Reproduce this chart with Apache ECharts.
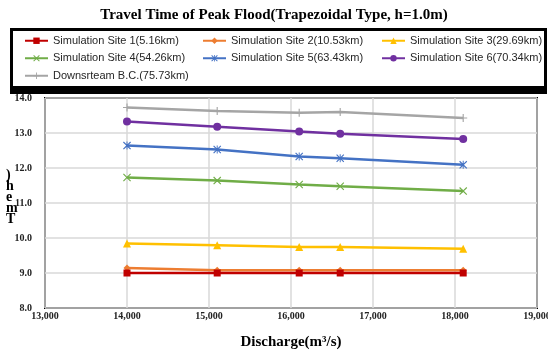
<!DOCTYPE html>
<html lang="en">
<head>
    <meta charset="UTF-8">
    <title>Travel Time of Peak Flood</title>
    <script src="https://cdn.jsdelivr.net/npm/echarts@6/dist/echarts.min.js"></script>
</head>
<body style="margin:0">
<div id="main" style="width: 548px;height:350px;"></div>
<script type="text/javascript">
    // discharge (m3/s) on x
    var discharge = [14000, 15100, 16100, 16600, 18100];
    // travel time (h) per site
    var site1 = [9.0, 9.0, 9.0, 9.0, 9.0];
    var site2 = [9.14, 9.08, 9.08, 9.08, 9.08];
    var site3 = [9.84, 9.79, 9.74, 9.74, 9.69];
    var site4 = [11.73, 11.64, 11.53, 11.48, 11.34];
    var site5 = [12.64, 12.53, 12.33, 12.28, 12.09];
    var site6 = [13.33, 13.18, 13.04, 12.98, 12.83];
    var downstream = [13.73, 13.63, 13.58, 13.6, 13.43];

    var names = ["Simulation Site 1(5.16km)", "Simulation Site 2(10.53km)", "Simulation Site 3(29.69km)",
        "Simulation Site 4(54.26km)", "Simulation Site 5(63.43km)", "Simulation Site 6(70.34km)",
        "Downsrteam B.C.(75.73km)"];
    var colors = ["#c00000", "#ed7d31", "#ffc000", "#70ad47", "#4472c4", "#7030a0", "#a5a5a5"];

    var xMark = "path://M0,1L1,0L5,4L9,0L10,1L6,5L10,9L9,10L5,6L1,10L0,9L4,5Z";
    var starMark = "path://M0,1L1,0L5,4L9,0L10,1L6,5L10,9L9,10L5,6L1,10L0,9L4,5ZM4.4,0H5.6V10H4.4Z";
    var plusMark = "path://M4.3,0H5.7V4.3H10V5.7H5.7V10H4.3V5.7H0V4.3H4.3Z";
    var symbols = ["rect", "diamond", "triangle", xMark, starMark, "circle", plusMark];
    var sizes = [7, 7, 8, 8, 8, 8, 8];
    var values = [site1, site2, site3, site4, site5, site6, downstream];

    var serif = "'Liberation Serif', 'Times New Roman', serif";
    var sans = "'Liberation Sans', Arial, sans-serif";

    var series = values.map(function (v, i) {
        return {
            name: names[i],
            type: "line",
            data: v.map(function (y, j) { return [discharge[j], y]; }),
            symbol: symbols[i],
            symbolSize: sizes[i],
            lineStyle: {color: colors[i], width: 2.5},
            itemStyle: {color: colors[i]},
            z: 10 - i
        };
    });

    function legendCol(left, items) {
        return {
            orient: "vertical",
            left: left,
            top: 34,
            padding: 0,
            itemGap: 4,
            itemWidth: 23,
            itemHeight: 8,
            data: items,
            textStyle: {fontFamily: sans, fontSize: 11, lineHeight: 13.5, color: "#262626"}
        };
    }

    var myChart = echarts.init(document.getElementById('main'));
    myChart.setOption({
        animation: false,
        title: {
            text: "Travel Time of Peak Flood(Trapezoidal Type, h=1.0m)",
            left: "center",
            top: 3,
            textStyle: {fontFamily: serif, fontWeight: "bold", fontSize: 15, color: "#000"}
        },
        legend: [
            legendCol(24, [names[0], names[3], names[6]]),
            legendCol(202, [names[1], names[4]]),
            legendCol(381, [names[2], names[5]])
        ],
        grid: {
            left: 45, right: 11, top: 98, bottom: 42,
            outerBoundsMode: "none",
            show: true, borderColor: "#000", borderWidth: 2
        },
        xAxis: {
            type: "value",
            min: 13000, max: 19000, interval: 1000,
            axisLine: {show: false},
            axisTick: {show: false},
            splitLine: {lineStyle: {color: "#d9d9d9", width: 1.5}},
            axisLabel: {
                margin: 3,
                fontFamily: serif, fontWeight: "bold", fontSize: 10, color: "#222",
                formatter: function (v) { return v.toLocaleString("en-US"); }
            },
            name: "Discharge(m³/s)",
            nameLocation: "middle",
            nameGap: 27,
            nameTextStyle: {fontFamily: serif, fontWeight: "bold", fontSize: 15, color: "#000"}
        },
        yAxis: {
            type: "value",
            min: 8, max: 14, interval: 1,
            axisLine: {show: false},
            axisTick: {show: false},
            splitLine: {lineStyle: {color: "#d9d9d9", width: 1.5}},
            axisLabel: {
                margin: 13,
                fontFamily: serif, fontWeight: "bold", fontSize: 10, color: "#222",
                formatter: function (v) { return v.toFixed(1); }
            }
        },
        graphic: [
            {
                type: "rect",
                shape: {x: 11.5, y: 29.5, width: 534, height: 60},
                style: {fill: "none", stroke: "#000", lineWidth: 3}
            },
            {
                type: "rect",
                shape: {x: 10, y: 86, width: 537, height: 8},
                style: {fill: "#000"}
            },
            {
                type: "text",
                left: 6,
                top: 168,
                style: {
                    text: ")\nh\ne\nm\nT",
                    font: "bold 14px " + serif,
                    lineHeight: 11,
                    fill: "#000"
                }
            }
        ],
        series: series
    });
</script>
</body>
</html>
